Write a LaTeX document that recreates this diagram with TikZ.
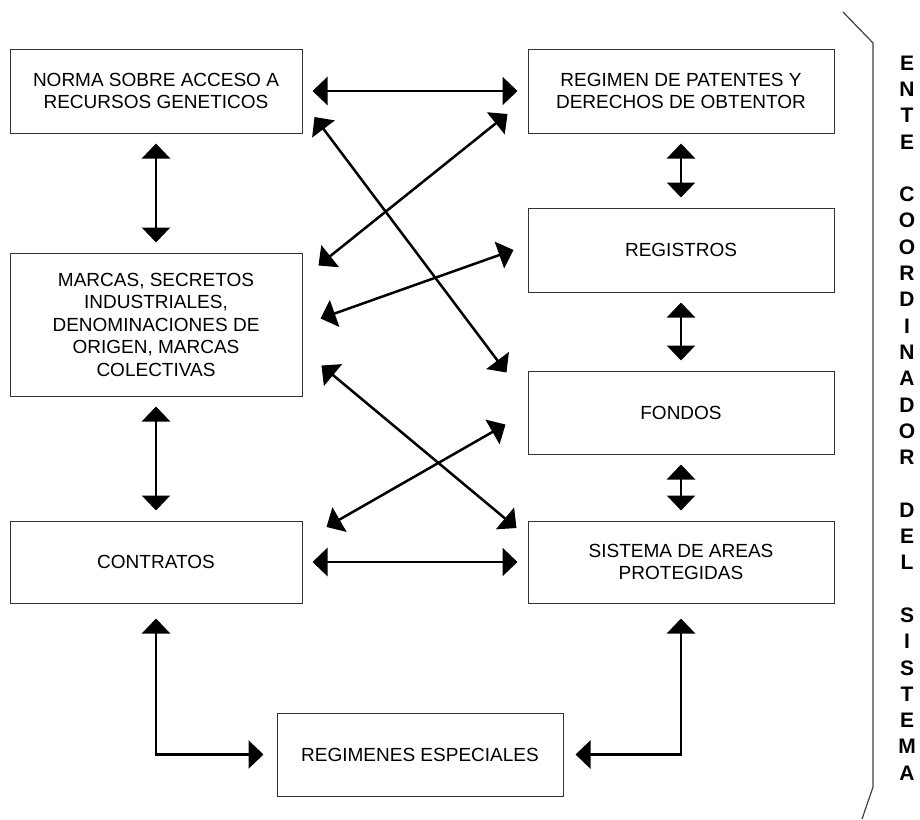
\documentclass[tikz,border=0pt]{standalone}
\usepackage{fontspec}
\setmainfont{Liberation Sans}
\usetikzlibrary{arrows.meta,calc}

\tikzset{
    box/.style={draw=black!80,line width=1pt,align=center,inner sep=0pt,
        font=\fontsize{19}{22.5}\selectfont},
    link/.style={line width=2.5pt,{Triangle[length=15pt,width=28pt]}-{Triangle[length=15pt,width=28pt]},
        shorten <=10pt,shorten >=10pt},
    vtext/.style={align=center,inner sep=0pt,font=\fontsize{21}{26.3}\selectfont\bfseries},
}

\begin{document}
\begin{tikzpicture}[x=1pt,y=-1pt]
\useasboundingbox (0,0) rectangle (920,819);
% left column
\node[box,minimum width=292pt,minimum height=84pt] (norma) at (156,91)
    {NORMA SOBRE ACCESO A\\RECURSOS GENETICOS};
\node[box,minimum width=292pt,minimum height=143pt] (marcas) at (156,324.5)
    {MARCAS, SECRETOS\\INDUSTRIALES,\\DENOMINACIONES DE\\ORIGEN, MARCAS\\COLECTIVAS};
\node[box,minimum width=292pt,minimum height=82pt] (contratos) at (156,562) {CONTRATOS};
% right column
\node[box,minimum width=306pt,minimum height=84pt] (regimen) at (681,91)
    {REGIMEN DE PATENTES Y\\DERECHOS DE OBTENTOR};
\node[box,minimum width=306pt,minimum height=84pt] (registros) at (681,250) {REGISTROS};
\node[box,minimum width=306pt,minimum height=83pt] (fondos) at (681,412.5) {FONDOS};
\node[box,minimum width=306pt,minimum height=82pt] (sistema) at (681,562)
    {SISTEMA DE AREAS\\PROTEGIDAS};
\node[box,minimum width=286pt,minimum height=83pt] (regimenes) at (420,754.5)
    {REGIMENES ESPECIALES};
% side label
\node[vtext] (ente) at (907,418)
    {E\\N\\T\\E\\[26.3pt]C\\O\\O\\R\\D\\I\\N\\A\\D\\O\\R\\[26.3pt]D\\E\\L\\[26.3pt]S\\I\\S\\T\\E\\M\\A};
\draw[black!75,line width=1.2pt] (843,12) -- (873,43) -- (873,787) -- (862,819);

\draw[link] (norma) -- (regimen);
\draw[link] (contratos) -- (sistema);
\draw[link] (norma) -- (marcas);
\draw[link] (marcas) -- (contratos);
\draw[link] (regimen) -- (registros);
\draw[link] (registros) -- (fondos);
\draw[link] (fondos) -- (sistema);
% crossing links
\draw[link,shorten <=0pt,shorten >=0pt]
    ($(norma.east)+(12,26)$) -- ($(fondos.west)+(-21,-40)$);
\draw[link,shorten <=0pt,shorten >=0pt]
    ($(regimen.west)+(-20,23)$) -- ($(marcas.east)+(16,-59)$);
\draw[link,shorten <=0pt,shorten >=0pt]
    ($(registros.west)+(-14,0)$) -- ($(marcas.east)+(18,-6)$);
\draw[link,shorten <=0pt,shorten >=0pt]
    ($(marcas.east)+(19,41)$) -- ($(sistema.west)+(-11,-34)$);
\draw[link,shorten <=0pt,shorten >=0pt]
    ($(fondos.west)+(-22,12)$) -- ($(contratos.east)+(24,-35)$);
% to regimenes especiales
\draw[link,shorten <=15pt,shorten >=13pt] (contratos.south) |- (regimenes.west);
\draw[link,shorten <=15pt,shorten >=12pt] (sistema.south) |- (regimenes.east);
\end{tikzpicture}
\end{document}
